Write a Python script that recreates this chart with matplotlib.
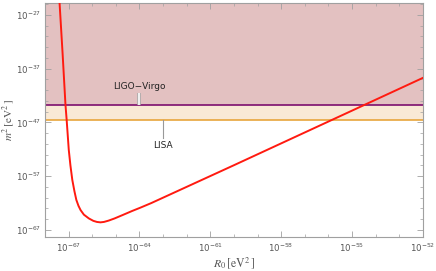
import numpy as np
import matplotlib
matplotlib.use("Agg")
import matplotlib.pyplot as plt
from matplotlib.ticker import FixedLocator, NullFormatter

plt.rcParams['mathtext.fontset'] = 'stix'
plt.rcParams['font.family'] = ['DejaVu Sans']

# red curve (log10 values)
log_R0 = [-67.45, -67.38, -67.25, -67.13, -67.08, -66.99, -66.92, -66.84, -66.75,
          -66.67, -66.58, -66.49, -66.35, -66.14, -65.95, -65.8, -65.65, -65.5,
          -65.3, -65.05, -64.7, -64.3, -63.96, -63.5, -60.0, -58.04, -55.0, -52.0]
log_m2 = [-23.0, -24.77, -34.3, -43.7, -46.5, -52.1, -55.0, -57.7, -59.8,
          -61.4, -62.5, -63.3, -64.15, -64.85, -65.3, -65.5, -65.58, -65.5,
          -65.25, -64.85, -64.2, -63.45, -62.85, -62.0, -54.96, -50.98, -44.81, -38.72]

# detector bounds on m^2 (log10)
ligo_virgo = -43.75
lisa = -46.5

x_major = [-67, -64, -61, -58, -55, -52]
y_major = [-67, -57, -47, -37, -27]

fig = plt.figure(figsize=(4.36, 2.71), dpi=100)
ax = fig.add_axes([0.103, 0.1255, 0.867, 0.8635])
ax.set_xscale('log')
ax.set_yscale('log')
xlim = (1e-68, 1e-52)
ylim = (10**-68.3, 10**-24.8)

ax.fill_between(xlim, 10**ligo_virgo, ylim[1], color='#e3c1c1', lw=0, zorder=1)
ax.fill_between(xlim, 10**lisa, 10**ligo_virgo, color='#f9e9d5', lw=0, zorder=1)
ax.axhline(10**ligo_virgo, color='#7d0e6e', lw=1.2, zorder=2)
ax.axhline(10**lisa, color='#e8a53c', lw=1.2, zorder=2)

ax.plot(10**np.array(log_R0), 10**np.array(log_m2), color='#ff1a10', lw=1.4, zorder=3)

# labels with leader lines
xl = 10**-64.0
ax.plot([xl, xl], [10**-41.6, 10**ligo_virgo], color='#aaaaaa', lw=2.6, zorder=4,
        solid_capstyle='butt')
ax.plot([xl, xl], [10**-41.6, 10**ligo_virgo], color='white', lw=1.2, zorder=5,
        solid_capstyle='butt')
ax.text(xl, 10**-40.4, 'LIGO\u2212Virgo', ha='center', va='center', fontsize=6.5,
        color='#222222', zorder=6)
xs = 10**-63.0
ax.plot([xs, xs], [10**lisa, 10**-49.9], color='#999999', lw=0.8, zorder=4)
ax.text(xs, 10**-51.3, 'LISA', ha='center', va='center', fontsize=6.5,
        color='#222222', zorder=6)

ax.set_xlim(xlim)
ax.set_ylim(ylim)
ax.xaxis.set_major_locator(FixedLocator([10.0**e for e in x_major]))
ax.xaxis.set_minor_locator(FixedLocator([10.0**e for e in range(-68, -51)]))
ax.yaxis.set_major_locator(FixedLocator([10.0**e for e in y_major]))
ax.yaxis.set_minor_locator(FixedLocator([10.0**e for e in range(-69, -24, 2)]))
ax.set_xticklabels([r'$\mathdefault{10^{%d}}$' % e for e in x_major])
ax.set_yticklabels([r'$\mathdefault{10^{%d}}$' % e for e in y_major])
ax.xaxis.set_minor_formatter(NullFormatter())
ax.yaxis.set_minor_formatter(NullFormatter())

for s in ax.spines.values():
    s.set_color('#a0a0a0')
    s.set_linewidth(0.8)
ax.tick_params(which='both', direction='in', top=True, right=True, color='#a0a0a0',
               labelsize=6.2, labelcolor='#555555', pad=3)
ax.tick_params(which='major', length=4, width=0.6)
ax.tick_params(which='minor', length=2, width=0.5)

ax.set_xlabel(r'$R_0\,[\mathrm{eV}^2\,]$', fontsize=8.5, color='#555555')
ax.set_ylabel(r'$m^2\,[\mathrm{eV}^2\,]$', fontsize=8, color='#555555')
ax.xaxis.set_label_coords(0.5, -0.078)
ax.yaxis.set_label_coords(-0.075, 0.5)

fig.savefig('out.png', dpi=100)
